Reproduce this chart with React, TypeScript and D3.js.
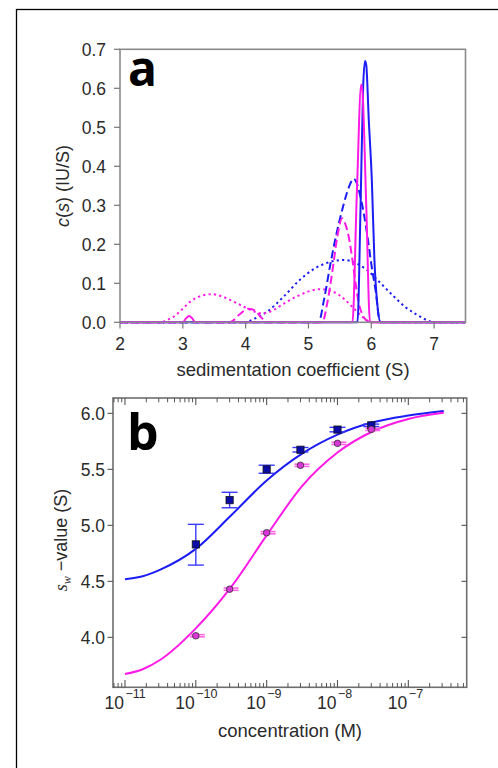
import React from "react";
import * as d3 from "d3";

// ---------- Panel a data: c(s) distributions ----------
const blueSolid: [number, number][] = [[2,0],[5.78,0],[5.83,0.30],[5.87,0.60],[5.90,0.67],[5.92,0.66],[5.96,0.52],[6.01,0.36],[6.05,0.16],[6.10,0.04],[6.15,0],[7.5,0]];
const magentaSolid: [number, number][] = [[2,0],[3.0,0],[3.05,0.01],[3.1,0.016],[3.15,0.01],[3.2,0],[5.70,0],[5.77,0.33],[5.84,0.61],[5.86,0.59],[5.92,0.30],[5.98,0],[7.5,0]];
const blueDashed: [number, number][] = [[2,0],[5.16,0],[5.25,0.06],[5.35,0.15],[5.45,0.23],[5.54,0.29],[5.64,0.345],[5.72,0.368],[5.76,0.36],[5.83,0.32],[5.94,0.22],[6.00,0.15],[6.07,0.08],[6.14,0],[7.5,0]];
const magentaDashed: [number, number][] = [[2,0],[3.75,0],[3.9,0.02],[4.05,0.035],[4.15,0.03],[4.25,0.012],[4.35,0],[5.22,0],[5.30,0.05],[5.38,0.13],[5.46,0.22],[5.535,0.267],[5.58,0.255],[5.64,0.22],[5.70,0.16],[5.75,0.10],[5.80,0.05],[5.85,0.023],[5.92,0.005],[5.98,0],[7.5,0]];
const blueDotted: [number, number][] = [[2,0],[3.99,0],[4.15,0.01],[4.34,0.027],[4.6,0.065],[4.87,0.11],[5.1,0.138],[5.35,0.155],[5.56,0.16],[5.75,0.152],[5.93,0.134],[6.15,0.1],[6.36,0.066],[6.55,0.038],[6.73,0.019],[6.88,0.006],[7.0,0],[7.5,0]];
const magentaDotted: [number, number][] = [[2,0],[2.66,0],[2.75,0.006],[2.85,0.014],[3.0,0.035],[3.12,0.053],[3.3,0.068],[3.46,0.072],[3.63,0.066],[3.81,0.053],[4.02,0.036],[4.15,0.027],[4.25,0.023],[4.35,0.025],[4.45,0.032],[4.6,0.047],[4.76,0.062],[4.98,0.078],[5.19,0.085],[5.32,0.082],[5.45,0.074],[5.58,0.058],[5.72,0.036],[5.85,0.015],[5.93,0.006],[5.98,0],[7.5,0]];
const xTicksA = [2, 3, 4, 5, 6, 7];
const yTicksA = [0, 0.1, 0.2, 0.3, 0.4, 0.5, 0.6, 0.7];

// ---------- Panel b data: sw isotherms ----------
const concPoints = [1e-10, 3e-10, 1e-9, 3e-9, 1e-8, 3e-8];
const blueSw = [4.83, 5.225, 5.50, 5.675, 5.855, 5.893];
const blueLo = [4.645, 5.157, 5.465, 5.655, 5.835, 5.882];
const blueHi = [5.009, 5.295, 5.537, 5.695, 5.875, 5.904];
const magentaSw = [4.014, 4.43, 4.934, 5.536, 5.732, 5.857];
const magentaLo = [4.004, 4.42, 4.924, 5.526, 5.722, 5.847];
const magentaHi = [4.024, 4.44, 4.944, 5.546, 5.742, 5.867];
const fitConc = [1e-11, 1.78e-11, 3.16e-11, 1e-10, 3.16e-10, 1e-9, 3.16e-9, 1e-8, 3.16e-8, 1e-7, 3.16e-7];
const blueFit = [4.518, 4.545, 4.605, 4.79, 5.09, 5.40, 5.64, 5.81, 5.92, 5.98, 6.02];
const magentaFit = [3.672, 3.715, 3.80, 4.08, 4.45, 4.91, 5.35, 5.65, 5.84, 5.95, 6.005];
const yTicksB = [4.0, 4.5, 5.0, 5.5, 6.0];
const xDecadesB = [-11, -10, -9, -8, -7];

const BLUE = "#1c1cf5";
const MAGENTA = "#ff19e6";
const TXT = "#2a2a2a";
const FONT = "'Liberation Sans', Arial, sans-serif";
const BOLDFONT = "'Open Sans', 'Liberation Sans', sans-serif";

export default function App() {
  // panel a scales
  const xA = d3.scaleLinear().domain([2, 7.5]).range([120, 465.5]);
  const yA = d3.scaleLinear().domain([0, 0.7]).range([322.3, 49.3]);
  const lineA = d3.line<[number, number]>().x(d => xA(d[0])).y(d => yA(d[1])).curve(d3.curveMonotoneX);

  // panel b scales
  const xB = d3.scaleLog().domain([Math.pow(10, -11.169), Math.pow(10, -6.176)]).range([113, 466.7]);
  const yB = d3.scaleLinear().domain([3.554, 6.137]).range([687.3, 398]);
  const lineB = d3.line<number>().x((_, i) => xB(fitConc[i])).y(d => yB(d)).curve(d3.curveMonotoneX);

  const minorB: number[] = [];
  for (let e = -12; e <= -6; e++) {
    for (let m = 2; m <= 9; m++) {
      const v = m * Math.pow(10, e);
      const px = xB(v);
      if (px > 113.5 && px < 466.3) minorB.push(v);
    }
  }

  const series = [
    { d: blueDotted, c: BLUE, dash: "2.2,3.2" },
    { d: magentaDotted, c: MAGENTA, dash: "2.2,3.2" },
    { d: blueDashed, c: BLUE, dash: "8,4" },
    { d: magentaDashed, c: MAGENTA, dash: "8,4" },
    { d: blueSolid, c: BLUE, dash: "none" },
    { d: magentaSolid, c: MAGENTA, dash: "none" },
  ];

  const capW = 8;

  return (
    <svg width={498} height={768} style={{ position: "absolute", left: 0, top: 0, background: "#fff" }} fontFamily={FONT}>
      <rect x={0} y={0} width={498} height={768} fill="#fff" />
      {/* outer figure border */}
      <rect x={16.5} y={9.5} width={520} height={800} fill="none" stroke="#000" strokeWidth={1.3} />

      {/* ---------------- Panel a ---------------- */}
      <g>
        {series.map((s, i) => (
          <path key={i} d={lineA(s.d) || ""} fill="none" stroke={s.c} strokeWidth={2} strokeDasharray={s.dash} strokeLinejoin="round" />
        ))}
        <rect x={120} y={49.3} width={345.5} height={273} fill="none" stroke="#8a8a8a" strokeWidth={1.6} />
        {yTicksA.map(t => (
          <g key={t}>
            <line x1={114} x2={120} y1={yA(t)} y2={yA(t)} stroke="#777" strokeWidth={1.2} />
            <text x={106} y={yA(t)} dy="0.36em" textAnchor="end" fontSize={17.5} fill={TXT}>{t.toFixed(1)}</text>
          </g>
        ))}
        {xTicksA.map(t => (
          <g key={t}>
            <line x1={xA(t)} x2={xA(t)} y1={322.3} y2={328.5} stroke="#777" strokeWidth={1.2} />
            <text x={xA(t)} y={350} textAnchor="middle" fontSize={17.5} fill={TXT}>{t}</text>
          </g>
        ))}
        <text x={293} y={376} textAnchor="middle" fontSize={18.5} fill={TXT}>sedimentation coefficient (S)</text>
        <text transform="translate(69,186) rotate(-90)" textAnchor="middle" fontSize={18} fill={TXT}>
          <tspan fontStyle="italic">c</tspan>(<tspan fontStyle="italic">s</tspan>) (IU/S)
        </text>
        <text x={128} y={86} fontSize={48} fontWeight="bold" fill="#000" fontFamily={BOLDFONT}>a</text>
      </g>

      {/* ---------------- Panel b ---------------- */}
      <g>
        <path d={lineB(blueFit) || ""} fill="none" stroke={BLUE} strokeWidth={2} />
        <path d={lineB(magentaFit) || ""} fill="none" stroke={MAGENTA} strokeWidth={2} />
        {/* blue error bars */}
        {concPoints.map((c, i) => (
          <g key={"be" + i} stroke="#3a3aff" strokeWidth={1.4}>
            <line x1={xB(c)} x2={xB(c)} y1={yB(blueLo[i])} y2={yB(blueHi[i])} />
            <line x1={xB(c) - capW} x2={xB(c) + capW} y1={yB(blueLo[i])} y2={yB(blueLo[i])} />
            <line x1={xB(c) - capW} x2={xB(c) + capW} y1={yB(blueHi[i])} y2={yB(blueHi[i])} />
          </g>
        ))}
        {/* magenta error bars */}
        {concPoints.map((c, i) => (
          <g key={"me" + i} stroke="#ff66e6" strokeWidth={1.6}>
            <line x1={xB(c)} x2={xB(c)} y1={yB(magentaLo[i])} y2={yB(magentaHi[i])} />
            <line x1={xB(c) - capW + 2} x2={xB(c) + capW + 1} y1={yB(magentaLo[i])} y2={yB(magentaLo[i])} />
            <line x1={xB(c) - capW + 2} x2={xB(c) + capW + 1} y1={yB(magentaHi[i])} y2={yB(magentaHi[i])} />
          </g>
        ))}
        {concPoints.map((c, i) => (
          <rect key={"bs" + i} x={xB(c) - 3.6} y={yB(blueSw[i]) - 3.6} width={7.2} height={7.2} fill="#0b0ba8" stroke="#111" strokeWidth={0.8} />
        ))}
        {concPoints.map((c, i) => (
          <circle key={"mc" + i} cx={xB(c)} cy={yB(magentaSw[i])} r={3.3} fill="#d936d9" stroke="#333" strokeWidth={0.8} />
        ))}

        <rect x={113} y={398} width={353.7} height={289.3} fill="none" stroke="#6e6e6e" strokeWidth={1.6} />
        {/* x ticks, inward on bottom and top */}
        {xDecadesB.map(e => {
          const px = xB(Math.pow(10, e));
          return (
            <g key={e}>
              <line x1={px} x2={px} y1={687.3} y2={680} stroke="#555" strokeWidth={1.1} />
              <line x1={px} x2={px} y1={398} y2={405} stroke="#555" strokeWidth={1.1} />
              <text x={px - 1} y={709} textAnchor="end" fontSize={17.5} fill={TXT}>10</text>
              <text x={px + 0.5} y={698} textAnchor="start" fontSize={12.5} fill={TXT}>{"\u2212" + (-e)}</text>
            </g>
          );
        })}
        {minorB.map((v, i) => (
          <g key={"mn" + i}>
            <line x1={xB(v)} x2={xB(v)} y1={687.3} y2={683} stroke="#555" strokeWidth={1} />
            <line x1={xB(v)} x2={xB(v)} y1={398} y2={402.3} stroke="#555" strokeWidth={1} />
          </g>
        ))}
        {yTicksB.map(t => (
          <g key={t}>
            <line x1={107.5} x2={113} y1={yB(t)} y2={yB(t)} stroke="#555" strokeWidth={1.1} />
            <line x1={461.5} x2={466.7} y1={yB(t)} y2={yB(t)} stroke="#555" strokeWidth={1.1} />
            <text x={105} y={yB(t)} dy="0.36em" textAnchor="end" fontSize={17.5} fill={TXT}>{t.toFixed(1)}</text>
          </g>
        ))}
        <text x={290} y={737} textAnchor="middle" fontSize={18.5} fill={TXT}>concentration (M)</text>
        <text transform="translate(67,540) rotate(-90)" textAnchor="middle" fontSize={18} fill={TXT}>
          <tspan fontStyle="italic" fontFamily="'Liberation Serif', serif" fontSize={18}>s</tspan>
          <tspan fontStyle="italic" fontFamily="'Liberation Serif', serif" fontSize={12} dy={4}>w</tspan>
          <tspan dy={-4}>{" \u2212value (S)"}</tspan>
        </text>
        <text x={127} y={450} fontSize={50} fontWeight="bold" fill="#000" fontFamily={BOLDFONT}>b</text>
      </g>
    </svg>
  );
}
